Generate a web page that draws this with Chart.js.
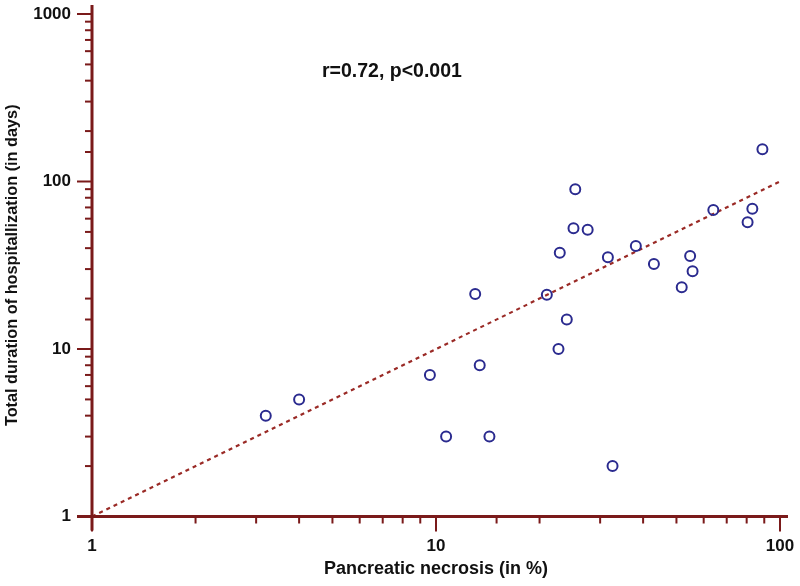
<!DOCTYPE html>
<html>
<head>
<meta charset="utf-8">
<script src="https://cdn.jsdelivr.net/npm/chart.js@4"></script>
<style>
  html, body { margin: 0; padding: 0; background: #fff; }
  #wrap { width: 800px; height: 586px; position: relative; }
</style>
</head>
<body>
<div id="wrap"><canvas id="c" width="800" height="586"></canvas></div>
<script>
// Data
const necrosisPct = [3.2, 4.0, 9.6, 10.7, 13.0, 13.4, 14.3, 21.0, 22.7, 22.9, 24.0, 25.1, 25.4, 27.6, 31.6, 32.6, 38.1, 43.0, 51.8, 54.8, 55.7, 64.0, 80.5, 83.1, 88.9];
const hospitalDays = [4.0, 5.0, 7.0, 3.0, 21.3, 8.0, 3.0, 21.1, 10.0, 37.5, 15.0, 52.6, 89.8, 51.5, 35.3, 2.0, 41.2, 32.2, 23.4, 35.9, 29.1, 67.6, 57.1, 68.8, 156];
const regressionX = [1, 100];
const regressionY = [1, 100];
const xTickLabels = ['1', '10', '100'];
const yTickLabels = ['1', '10', '100', '1000'];
const annotationText = 'r=0.72, p<0.001';

const AXIS = '#7a1a1a';
const MARK = '#2b2b8f';
const FONT = "'Liberation Sans', Arial, sans-serif";

const points = necrosisPct.map((x, i) => ({ x: x, y: hospitalDays[i] }));
const regLine = regressionX.map((x, i) => ({ x: x, y: regressionY[i] }));

const axesPlugin = {
  id: 'axesPlugin',
  afterDraw(chart) {
    const ctx = chart.ctx;
    const xs = chart.scales.x, ys = chart.scales.y;
    const x0 = xs.getPixelForValue(1);
    const y0 = ys.getPixelForValue(1);
    const yTop = ys.getPixelForValue(1000);
    const xRight = xs.getPixelForValue(100);
    ctx.save();
    ctx.strokeStyle = AXIS;
    ctx.lineCap = 'butt';
    ctx.lineWidth = 2;
    ys.ticks.forEach(t => {
      const p = ys.getPixelForValue(t.value);
      const major = yTickLabels.includes(String(t.value));
      ctx.beginPath();
      ctx.moveTo(x0 - (major ? 15 : 7), p);
      ctx.lineTo(x0, p);
      ctx.stroke();
    });
    xs.ticks.forEach(t => {
      const p = xs.getPixelForValue(t.value);
      const major = xTickLabels.includes(String(t.value));
      ctx.beginPath();
      ctx.moveTo(p, y0);
      ctx.lineTo(p, y0 + (major ? 15 : 7));
      ctx.stroke();
    });
    ctx.lineWidth = 3;
    ctx.beginPath();
    ctx.moveTo(x0, yTop - 9);
    ctx.lineTo(x0, y0 + 14);
    ctx.stroke();
    ctx.beginPath();
    ctx.moveTo(x0 - 15, y0);
    ctx.lineTo(xRight + 8, y0);
    ctx.stroke();
    ctx.fillStyle = '#111';
    ctx.font = 'bold 19.5px ' + FONT;
    ctx.textAlign = 'left';
    ctx.textBaseline = 'middle';
    ctx.fillText(annotationText, 322, 72);
    ctx.restore();
  }
};

function noOverhang(s) {
  s.paddingTop = 0; s.paddingBottom = 0; s.paddingLeft = 0; s.paddingRight = 0;
}

new Chart(document.getElementById('c'), {
  type: 'scatter',
  data: {
    datasets: [
      {
        label: 'Patients',
        data: points,
        pointStyle: 'circle',
        pointRadius: 5,
        pointBorderWidth: 2,
        pointBorderColor: MARK,
        pointBackgroundColor: 'rgba(255,255,255,0)',
        showLine: false
      },
      {
        label: 'Regression',
        data: regLine,
        showLine: true,
        borderColor: '#9a2a26',
        borderWidth: 2.2,
        borderDash: [4, 4],
        pointRadius: 0,
        fill: false
      }
    ]
  },
  options: {
    responsive: false,
    animation: false,
    events: [],
    layout: { padding: { top: 14, right: 20, left: 0, bottom: 0 } },
    plugins: { legend: { display: false }, tooltip: { enabled: false } },
    scales: {
      x: {
        type: 'logarithmic',
        min: 1, max: 100,
        grid: { display: false, drawTicks: false },
        border: { display: false },
        ticks: {
          autoSkip: false,
          maxRotation: 0,
          padding: 20,
          color: '#111',
          font: { family: FONT, size: 17, weight: 'bold' },
          callback: (v) => xTickLabels.includes(String(v)) ? String(v) : ''
        },
        title: {
          display: true,
          text: 'Pancreatic necrosis (in %)',
          color: '#111',
          font: { family: FONT, size: 18, weight: 'bold' },
          padding: { top: 0, bottom: 6 }
        },
        afterFit: (s) => { s.height = 69.5; noOverhang(s); }
      },
      y: {
        type: 'logarithmic',
        min: 1, max: 1000,
        grid: { display: false, drawTicks: false },
        border: { display: false },
        ticks: {
          autoSkip: false,
          padding: 21,
          color: '#111',
          font: { family: FONT, size: 17, weight: 'bold' },
          callback: (v) => yTickLabels.includes(String(v)) ? String(v) : ''
        },
        title: {
          display: true,
          text: 'Total duration of hospitallization (in days)',
          color: '#111',
          font: { family: FONT, size: 16.3, weight: 'bold' },
          padding: { top: 3, bottom: 0 }
        },
        afterFit: (s) => { s.width = 92; noOverhang(s); }
      }
    }
  },
  plugins: [axesPlugin]
});
</script>
</body>
</html>
